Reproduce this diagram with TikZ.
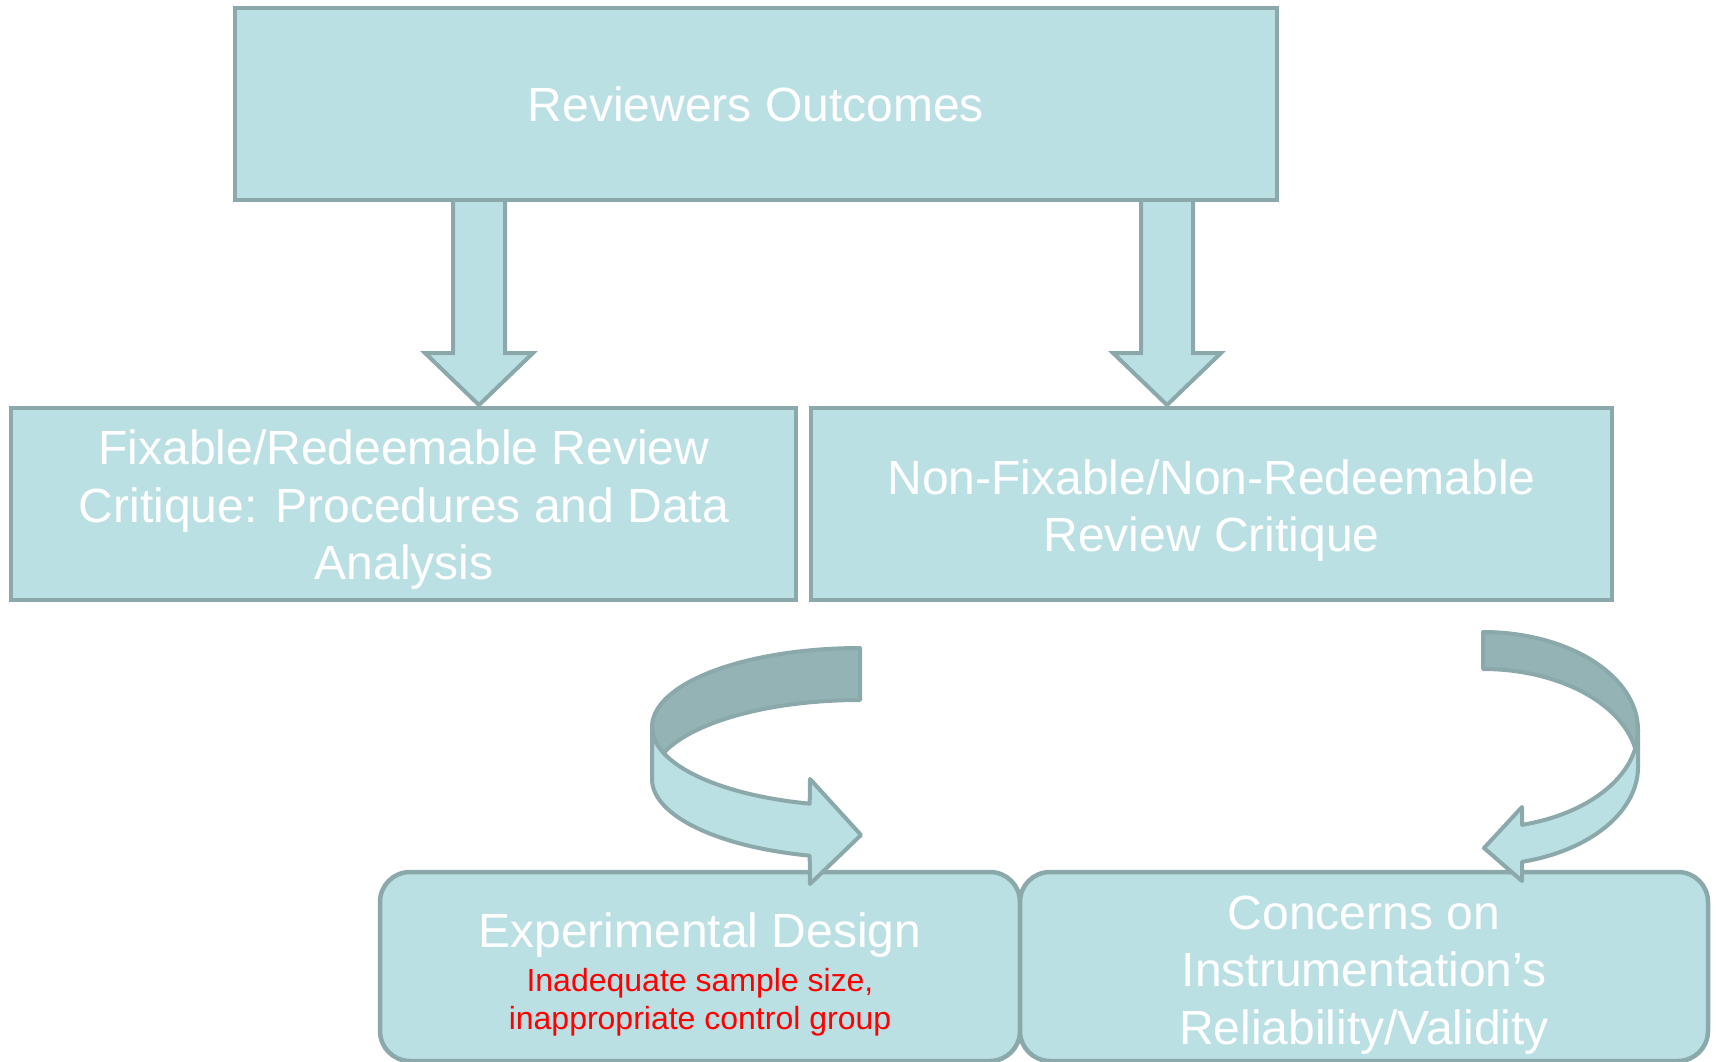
\documentclass[tikz,border=0pt]{standalone}
\usepackage{fontspec}
\setmainfont{Liberation Sans}
\usetikzlibrary{calc}

\definecolor{boxfill}{HTML}{BBE0E3}
\definecolor{boxline}{HTML}{8BA8AA}
\definecolor{backfill}{HTML}{94B3B5}
\definecolor{notered}{HTML}{FF0000}

% straight block arrow pointing down: #1 centre x, #2 top y, #3 tip y
\newcommand\blockdown[3]{%
  \filldraw[ribbon, fill=boxfill, line join=miter]
    (#1-26,#2) -- (#1-26,#3-52) -- (#1-54,#3-52) -- (#1,#3)
    -- (#1+54,#3-52) -- (#1+26,#3-52) -- (#1+26,#2);}

\begin{document}
\begin{tikzpicture}[x=1pt,y=-1pt,
  box/.style={draw=boxline, fill=boxfill, line width=4.5pt, text=white,
    align=center, inner sep=0pt, font=\fontsize{48}{57.5}\selectfont},
  softbox/.style={box, rounded corners=30pt},
  label/.style={text=white, align=center, inner sep=0pt,
    font=\fontsize{48}{57.5}\selectfont},
  note/.style={text=notered, align=center, inner sep=0pt,
    font=\fontsize{32}{38}\selectfont},
  ribbon/.style={draw=boxline, line width=4pt, line join=round},
]
\useasboundingbox (0,0) rectangle (1716,1062);

% boxes
\node[box, minimum width=1042pt, minimum height=192pt] (top) at (756,104)
  {Reviewers Outcomes};
\node[box, minimum width=785pt, minimum height=192pt] (fix) at (403.5,504) {};
\node[box, minimum width=801pt, minimum height=192pt] (nofix) at (1211.5,504) {};
\node[softbox, minimum width=640pt, minimum height=189pt] (design) at (700,966.5) {};
\node[softbox, minimum width=688pt, minimum height=189pt] (instr) at (1364,966.5) {};

% box texts
\node[label] (fixtxt) at (404,510)
  {Fixable/Redeemable Review\\Critique: Procedures and Data\\Analysis};
\node[label] (nofixtxt) at (1211.5,510.5)
  {Non-Fixable/Non-Redeemable\\Review Critique};
\node[label] (designtxt) at (700,935.5) {Experimental Design};
\node[note] (designnote) at (700,1002.5)
  {Inadequate sample size,\\inappropriate control group};
\node[label] (instrtxt) at (1364,975)
  {Concerns on\\Instrumentation’s\\Reliability/Validity};

% straight arrows from the top box
\blockdown{479}{202}{405}
\blockdown{1167}{202}{405}

% curved ribbon arrow towards the design box
\filldraw[ribbon, fill=backfill]
  plot[domain=270:180, samples=50] ({860+208*cos(\x)},{727+79*sin(\x)})
  -- plot[domain=180:160.8, samples=10] ({860+208*cos(\x)},{727+79*sin(\x)})
  -- plot[domain=199.2:270, samples=50] ({860+208*cos(\x)},{779+79*sin(\x)})
  -- cycle;
\coordinate (tipL) at (861,835);
\filldraw[ribbon, fill=boxfill]
  plot[domain=180:104, samples=50] ({860+208*cos(\x)},{727+79*sin(\x)})
  -- (810,779) -- (tipL) -- (810,884)
  -- plot[domain=104:180, samples=50] ({860+208*cos(\x)},{779+79*sin(\x)})
  -- cycle;

% curved ribbon arrow towards the instrumentation box
\filldraw[ribbon, fill=backfill]
  plot[domain=270:360, samples=50] ({1483+155*cos(\x)},{730+98*sin(\x)})
  -- plot[domain=0:10.9, samples=10] ({1483+155*cos(\x)},{730+98*sin(\x)})
  -- plot[domain=349.1:270, samples=50] ({1483+155*cos(\x)},{767+98*sin(\x)})
  -- cycle;
\coordinate (tipR) at (1484,848);
\filldraw[ribbon, fill=boxfill]
  plot[domain=0:75.4, samples=50] ({1483+155*cos(\x)},{730+98*sin(\x)})
  -- (1522,807) -- (tipR) -- (1522,881)
  -- plot[domain=75.4:0, samples=50] ({1483+155*cos(\x)},{767+98*sin(\x)})
  -- cycle;
\end{tikzpicture}
\end{document}
